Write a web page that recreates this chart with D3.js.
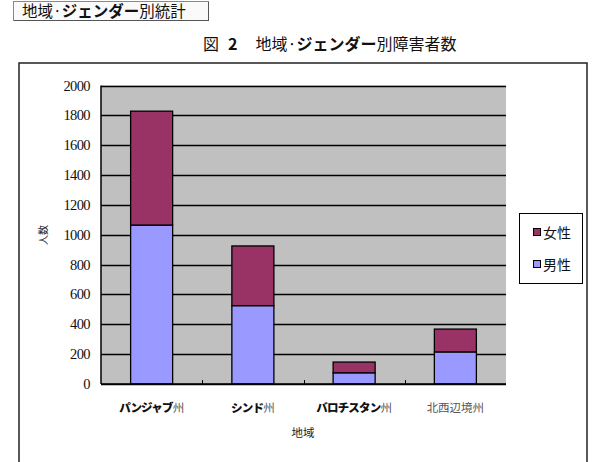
<!DOCTYPE html>
<html>
<head>
<meta charset="utf-8">
<script src="https://cdn.jsdelivr.net/npm/d3@7"></script>
<style>
  body { margin: 0; background: #fff; }
  .jp { font-family: "Noto Sans CJK JP", sans-serif; }
  .num { font-family: "Liberation Serif", "DejaVu Serif", serif; }
</style>
</head>
<body>
<svg id="chart" width="596" height="462"></svg>
<script>
// data
var regions = ["パンジャブ州", "シンド州", "バロチスタン州", "北西辺境州"];
// katakana part is drawn bold, the rest normal
var regionParts = [["パンジャブ", "州"], ["シンド", "州"], ["バロチスタン", "州"], ["", "北西辺境州"]];
var male = [1065, 525, 75, 215];
var female = [763, 400, 72, 153];
var seriesNames = ["男性", "女性"];
var seriesColors = ["#9999ff", "#993366"];
var yTicks = [0, 200, 400, 600, 800, 1000, 1200, 1400, 1600, 1800, 2000];

var svg = d3.select("#chart");

// header button
var hdr = svg.append("g");
hdr.append("rect").attr("x", 13.5).attr("y", 1.5).attr("width", 195).attr("height", 19)
  .attr("fill", "#fafafa").attr("stroke", "#888").attr("stroke-width", 1);
hdr.append("line").attr("x1", 14).attr("x2", 208).attr("y1", 20.5).attr("y2", 20.5)
  .attr("stroke", "#555");
hdr.append("line").attr("x1", 208.5).attr("x2", 208.5).attr("y1", 2).attr("y2", 21)
  .attr("stroke", "#555");
var ht = hdr.append("text").attr("class", "jp").attr("x", 22).attr("y", 17)
  .attr("font-size", 15.5).attr("fill", "#111");
ht.append("tspan").text("地域·");
ht.append("tspan").attr("font-weight", "bold").text("ジェンダー");
ht.append("tspan").text("別統計");

// chart title
var tt = svg.append("text").attr("class", "jp").attr("x", 203).attr("y", 50)
  .attr("font-size", 16).attr("fill", "#111");
tt.append("tspan").text("図");
tt.append("tspan").attr("dx", 9).attr("font-weight", "bold").text("2");
tt.append("tspan").attr("dx", 18).text("地域·");
tt.append("tspan").attr("font-weight", "bold").text("ジェンダー");
tt.append("tspan").text("別障害者数");

// outer chart frame
svg.append("rect").attr("x", 19).attr("y", 63).attr("width", 568).attr("height", 410)
  .attr("fill", "#fff").attr("stroke", "#222").attr("stroke-width", 1.5);

var plot = { left: 101, right: 506, top: 85.5, bottom: 384 };

var x = d3.scaleBand().domain(regions).range([plot.left, plot.right]).paddingInner(0.585).paddingOuter(0.2925);
var y = d3.scaleLinear().domain([0, 2000]).range([plot.bottom, plot.top]);

var g = svg.append("g");
g.append("rect").attr("x", plot.left).attr("y", plot.top)
  .attr("width", plot.right - plot.left).attr("height", plot.bottom - plot.top)
  .attr("fill", "#c0c0c0");

// gridlines
g.selectAll("line.grid").data(yTicks).enter().append("line")
  .attr("class", "grid")
  .attr("x1", plot.left).attr("x2", plot.right)
  .attr("y1", function (d) { return Math.round(y(d)) + 0.5; })
  .attr("y2", function (d) { return Math.round(y(d)) + 0.5; })
  .attr("stroke", "#000").attr("stroke-width", 1.3);

// y tick labels
g.selectAll("text.ytick").data(yTicks).enter().append("text")
  .attr("class", "ytick num")
  .attr("x", 90).attr("y", function (d) { return y(d) + 5; })
  .attr("text-anchor", "end")
  .attr("font-size", 14.5)
  .attr("letter-spacing", -0.6)
  .attr("fill", "#111")
  .text(function (d) { return d; });

// stacked bars
var stackData = regions.map(function (r, i) { return { region: r, male: male[i], female: female[i] }; });
var stack = d3.stack().keys(["male", "female"]);
var layers = stack(stackData);

g.selectAll("g.layer").data(layers).enter().append("g")
  .attr("class", "layer")
  .attr("fill", function (d, i) { return seriesColors[i]; })
  .selectAll("rect").data(function (d) { return d; }).enter().append("rect")
  .attr("x", function (d) { return x(d.data.region); })
  .attr("width", x.bandwidth())
  .attr("y", function (d) { return y(d[1]); })
  .attr("height", function (d) { return y(d[0]) - y(d[1]); })
  .attr("stroke", "#000").attr("stroke-width", 1.3);

// axes lines
g.append("line").attr("x1", plot.left).attr("x2", plot.left)
  .attr("y1", plot.top).attr("y2", plot.bottom).attr("stroke", "#000").attr("stroke-width", 1.5);
g.append("line").attr("x1", plot.left).attr("x2", plot.right)
  .attr("y1", plot.bottom).attr("y2", plot.bottom).attr("stroke", "#000").attr("stroke-width", 1.5);

// category tick marks between bands
d3.range(1, regions.length).forEach(function (k) {
  var tx = Math.round(plot.left + k * (plot.right - plot.left) / regions.length) + 0.5;
  g.append("line").attr("x1", tx).attr("x2", tx).attr("y1", plot.bottom - 4).attr("y2", plot.bottom)
    .attr("stroke", "#000").attr("stroke-width", 1);
});

// category labels
g.selectAll("text.xlab").data(regionParts).enter().append("text")
  .attr("class", "xlab jp")
  .attr("x", function (d, i) { return x(regions[i]) + x.bandwidth() / 2; })
  .attr("y", 412)
  .attr("text-anchor", "middle")
  .attr("font-size", 11.5)
  .attr("fill", "#111")
  .each(function (d) {
    var t = d3.select(this);
    if (d[0]) t.append("tspan").attr("font-weight", "900").attr("letter-spacing", -0.8).text(d[0]);
    t.append("tspan").attr("fill", "#555").text(d[1]);
  });

// axis titles
svg.append("text").attr("class", "jp").attr("x", 303).attr("y", 437).attr("text-anchor", "middle")
  .attr("font-size", 11.5).attr("fill", "#222").text("地域");
svg.append("text").attr("class", "jp").attr("transform", "translate(47,235) rotate(-90)")
  .attr("text-anchor", "middle").attr("font-size", 10).attr("fill", "#222").text("人数");

// legend
var lg = svg.append("g");
lg.append("rect").attr("x", 519.5).attr("y", 213.5).attr("width", 63).attr("height", 70)
  .attr("fill", "#fff").attr("stroke", "#000").attr("stroke-width", 1);
var legendOrder = [1, 0];
legendOrder.forEach(function (si, k) {
  var ly = 233 + k * 32;
  lg.append("rect").attr("x", 533.5).attr("y", ly - 4.5).attr("width", 7).attr("height", 7)
    .attr("fill", seriesColors[si]).attr("stroke", "#000").attr("stroke-width", 1);
  lg.append("text").attr("class", "jp").attr("x", 543).attr("y", ly + 5).attr("font-size", 14).attr("fill", "#111")
    .text(seriesNames[si]);
});
</script>
</body>
</html>
